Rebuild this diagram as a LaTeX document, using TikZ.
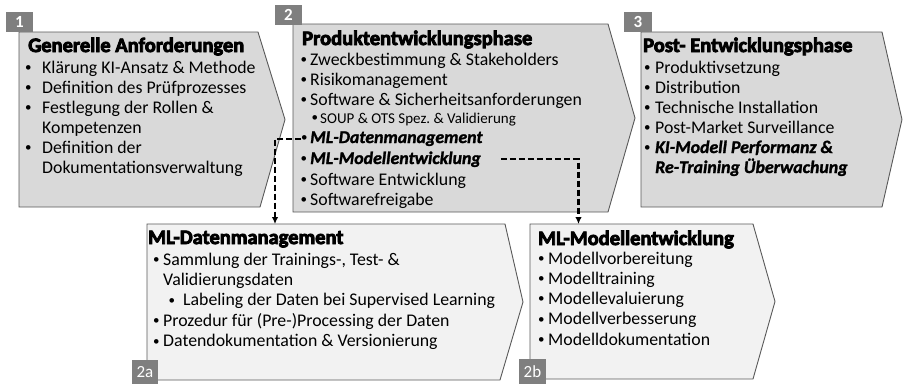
\documentclass[tikz,border=0pt]{standalone}
\usepackage{fontspec}
\setmainfont{Carlito}[BoldItalicFeatures={FakeBold=1.5}]
\newfontfamily\hfont{Carlito}[BoldFeatures={FakeBold=4}]
\usetikzlibrary{arrows.meta}
\frenchspacing
\definecolor{topfill}{HTML}{D9D9D9}
\definecolor{botfill}{HTML}{F2F2F2}
\definecolor{edgec}{HTML}{595959}
\definecolor{boxc}{HTML}{7F7F7F}
\newcommand\bodyf{\fontsize{17.8}{20}\selectfont}
\newcommand\smallf{\fontsize{15}{18}\selectfont}
\newcommand\headf{\hfont\bfseries\fontsize{20.5}{24}\selectfont}
\newcommand\dotb{{\mdseries\upshape\raisebox{1.2pt}{\fontsize{13}{13}\selectfont •}}}
\newcommand\bul[1]{\llap{\makebox[#1][l]{\dotb}}}
\newcommand\bi{\bfseries\itshape}
\tikzset{
  phase/.style={draw=edgec, line width=0.9pt, fill=topfill, line join=miter},
  subphase/.style={draw=edgec, line width=0.9pt, fill=botfill, line join=miter},
  numbox/.style={fill=boxc, text=white, inner sep=0pt, font=\fontsize{17}{20}\selectfont},
  ln/.style={anchor=base west, inner sep=0pt, font=\bodyf},
  lnsmall/.style={anchor=base west, inner sep=0pt, font=\smallf},
  hd/.style={anchor=base west, inner sep=0pt, font=\headf},
  link/.style={draw=black, line width=2.2pt, dash pattern=on 6pt off 3pt,
    -{Latex[length=7pt,width=6.5pt]}}
}
\begin{document}
\begin{tikzpicture}[x=1pt,y=-1pt]
\useasboundingbox (0,0) rectangle (903,384);

% phase shapes
\draw[phase] (19,32) -- (258,32) -- (285,119.5) -- (260,207) -- (19,207) -- cycle;
\draw[phase] (293,24) -- (608,24) -- (635,118) -- (608,212) -- (293,212) -- cycle;
\draw[phase] (641,32) -- (882,32) -- (902,119.5) -- (882,207) -- (641,207) -- cycle;
\draw[subphase] (147,224) -- (505,224) -- (523,302) -- (500,380) -- (147,380) -- cycle;
\draw[subphase] (530,224) -- (753,224) -- (775,301.5) -- (753,379) -- (530,379) -- cycle;

% number boxes
\node[numbox, minimum width=27pt, minimum height=20pt] (n1) at (19.5,22) {\bfseries 1};
\node[numbox, minimum width=27pt, minimum height=20pt] (n2) at (288.5,15) {\bfseries 2};
\node[numbox, minimum width=28pt, minimum height=20pt] (n3) at (638,22) {\bfseries 3};
\node[numbox, minimum width=26pt, minimum height=24pt] (n2a) at (145,372) {2a};
\node[numbox, minimum width=27pt, minimum height=25pt] (n2b) at (532.5,371.5) {2b};

% phase 1
\node[hd] (h1) at (28,52) {Generelle Anforderungen};
\node[ln] (a1l1) at (42,73) {\bul{17pt}Klärung KI-Ansatz \& Methode};
\node[ln] (a1l2) at (42,93) {\bul{17pt}Definition des Prüfprozesses};
\node[ln] (a1l3) at (42,113) {\bul{17pt}Festlegung der Rollen \&};
\node[ln] (a1l4) at (42,133) {Kompetenzen};
\node[ln] (a1l5) at (42,153) {\bul{17pt}Definition der};
\node[ln] (a1l6) at (42,173) {Dokumentationsverwaltung};

% phase 2
\node[hd] (h2) at (302,45) {Produktentwicklungsphase};
\node[ln] (b1) at (310,65) {\bul{9.5pt}Zweckbestimmung \& Stakeholders};
\node[ln] (b2) at (310,85) {\bul{9.5pt}Risikomanagement};
\node[ln] (b3) at (310,105) {\bul{9.5pt}Software \& Sicherheitsanforderungen};
\node[lnsmall] (b4) at (320,123) {\bul{8.5pt}SOUP \& OTS Spez.\ \& Validierung};
\node[ln] (ml1) at (301,143) {\makebox[9pt][l]{\dotb}\bi ML-Datenmanagement};
\node[ln] (ml2) at (310,164) {\bi\bul{9.5pt}ML-Modellentwicklung};
\node[ln] (b7) at (310,185) {\bul{9.5pt}Software Entwicklung};
\node[ln] (b8) at (310,205) {\bul{9.5pt}Softwarefreigabe};

% phase 3
\node[hd] (h3) at (643,52) {Post- Entwicklungsphase};
\node[ln] (c1) at (655,73) {\bul{11pt}Produktivsetzung};
\node[ln] (c2) at (655,93) {\bul{11pt}Distribution};
\node[ln] (c3) at (655,113) {\bul{11pt}Technische Installation};
\node[ln] (c4) at (655,133) {\bul{11pt}Post-Market Surveillance};
\node[ln] (c5) at (655,153) {\bi\bul{11pt}KI-Modell Performanz \&};
\node[ln] (c6) at (655,173) {\bi Re-Training Überwachung};

% phase 2a
\node[hd] (h2a) at (148,244) {ML-Datenmanagement};
\node[ln] (d1) at (163,265) {\bul{10pt}Sammlung der Trainings-, Test- \&};
\node[ln] (d2) at (163,285) {Validierungsdaten};
\node[ln] (d3) at (183,305.5) {\bul{14.5pt}Labeling der Daten bei Supervised Learning};
\node[ln] (d4) at (163,326) {\bul{10pt}Prozedur für (Pre-)Processing der Daten};
\node[ln] (d5) at (163,346.5) {\bul{10pt}Datendokumentation \& Versionierung};

% phase 2b
\node[hd] (h2b) at (538,245) {ML-Modellentwicklung};
\node[ln] (e1) at (548,264) {\bul{10pt}Modellvorbereitung};
\node[ln] (e2) at (548,284) {\bul{10pt}Modelltraining};
\node[ln] (e3) at (548,304) {\bul{10pt}Modellevaluierung};
\node[ln] (e4) at (548,324.5) {\bul{10pt}Modellverbesserung};
\node[ln] (e5) at (548,345) {\bul{10pt}Modelldokumentation};

% connectors
\coordinate (t2a) at (275,224);
\coordinate (t2b) at (578.5,224);
\draw[link] (ml1.west) -| (t2a);
\draw[link] ([xshift=20pt]ml2.east) -| (t2b);
\end{tikzpicture}
\end{document}
